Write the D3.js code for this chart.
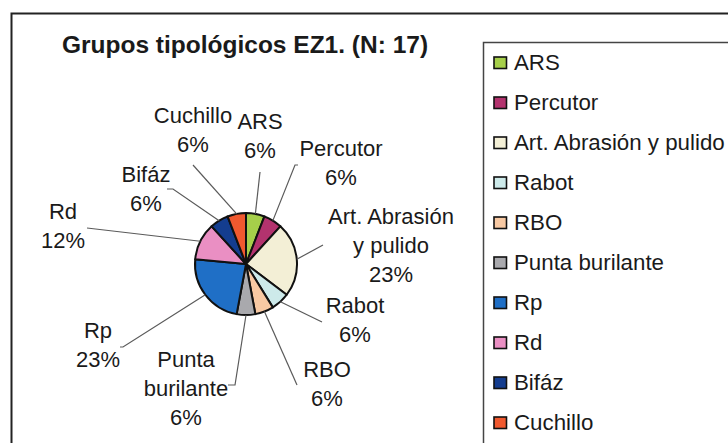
<!DOCTYPE html>
<html>
<head>
<meta charset="utf-8">
<script src="https://cdn.jsdelivr.net/npm/d3@7"></script>
<style>
  body { margin: 0; background: #fff; }
  text { font-family: "Liberation Sans", Arial, sans-serif; fill: #1a1a1a; }
</style>
</head>
<body>
<div id="chart"></div>
<script>
// Data (N = 17)
var categories = ["ARS", "Percutor", "Art. Abrasión y pulido", "Rabot", "RBO",
                  "Punta burilante", "Rp", "Rd", "Bifáz", "Cuchillo"];
var counts = [1, 1, 4, 1, 1, 1, 4, 2, 1, 1];
var percentLabels = ["6%", "6%", "23%", "6%", "6%", "6%", "23%", "12%", "6%", "6%"];
var colors = ["#a6cf4a", "#b3336e", "#f3efd6", "#cdeaea", "#f8c9a3",
              "#a9a9ad", "#1f6fc6", "#ea8fc3", "#143d8f", "#f0592f"];

// how each slice label is broken onto lines
var labelLines = {
  "Art. Abrasión y pulido": ["Art. Abrasión", "y pulido"],
  "Punta burilante": ["Punta", "burilante"]
};

// label placement (Excel "best fit"): text centre x, first baseline y, leader end
var labelLayout = {
  "ARS":                    {x: 260, y: 129, end: [260, 172]},
  "Percutor":               {x: 341, y: 156, end: [295, 165], tick: 3},
  "Art. Abrasión y pulido": {x: 391, y: 224, end: [323, 245]},
  "Rabot":                  {x: 355, y: 313, end: [322, 322]},
  "RBO":                    {x: 327, y: 377, end: [297, 385]},
  "Punta burilante":        {x: 186, y: 367, end: [235, 385], tick: -7},
  "Rp":                     {x: 98,  y: 338, end: [123, 347], tick: -3},
  "Rd":                     {x: 63,  y: 219, end: [87, 228]},
  "Bifáz":                  {x: 146, y: 182, end: [173, 189], tick: -6},
  "Cuchillo":               {x: 193, y: 123, end: [193, 165]}
};

var width = 728, height = 443;
var cx = 246, cy = 264, radius = 51;
var lineStep = 29;

var svg = d3.select("#chart").append("svg")
    .attr("width", width)
    .attr("height", height);

// outer chart frame (cropped on right and bottom)
svg.append("rect")
    .attr("x", 11.5).attr("y", 13.5)
    .attr("width", 760).attr("height", 460)
    .attr("fill", "#fff")
    .attr("stroke", "#222")
    .attr("stroke-width", 2);

// title
svg.append("text")
    .attr("x", 245)
    .attr("y", 53)
    .attr("text-anchor", "middle")
    .style("font-size", "24.5px")
    .style("font-weight", "bold")
    .text("Grupos tipológicos EZ1. (N: 17)");

var data = categories.map(function(c, i) {
  return {name: c, value: counts[i], pct: percentLabels[i], color: colors[i]};
});

var pie = d3.pie()
    .value(function(d) { return d.value; })
    .sort(null);

var arc = d3.arc()
    .innerRadius(0)
    .outerRadius(radius);

var arcs = pie(data);

var g = svg.append("g")
    .attr("transform", "translate(" + cx + "," + cy + ")");

// leader lines
svg.selectAll(".leader")
    .data(arcs)
  .enter().append("polyline")
    .attr("class", "leader")
    .attr("fill", "none")
    .attr("stroke", "#5a5a5a")
    .attr("stroke-width", 1.2)
    .attr("points", function(d) {
      var lay = labelLayout[d.data.name];
      var mid = (d.startAngle + d.endAngle) / 2;
      var p = d3.pointRadial(mid, radius);
      var pts = [[cx + p[0], cy + p[1]], lay.end];
      if (lay.tick) pts.push([lay.end[0] + lay.tick, lay.end[1]]);
      return pts.map(function(q) { return q.join(","); }).join(" ");
    });

// slices
g.selectAll(".slice")
    .data(arcs)
  .enter().append("path")
    .attr("class", "slice")
    .attr("d", arc)
    .attr("fill", function(d) { return d.data.color; })
    .attr("stroke", "#111")
    .attr("stroke-width", 2)
    .attr("stroke-linejoin", "round");

// slice labels
var labels = svg.selectAll(".slice-label")
    .data(arcs)
  .enter().append("text")
    .attr("class", "slice-label")
    .attr("text-anchor", "middle")
    .style("font-size", "22px");

labels.each(function(d) {
  var lay = labelLayout[d.data.name];
  var lines = (labelLines[d.data.name] || [d.data.name]).concat([d.data.pct]);
  d3.select(this).selectAll("tspan")
      .data(lines)
    .enter().append("tspan")
      .attr("x", lay.x)
      .attr("y", function(t, i) { return lay.y + i * lineStep; })
      .text(function(t) { return t; });
});

// legend box (cropped on right and bottom)
var legend = svg.append("g")
    .attr("transform", "translate(483.5,42.5)");

legend.append("rect")
    .attr("width", 300)
    .attr("height", 420)
    .attr("fill", "#fff")
    .attr("stroke", "#444")
    .attr("stroke-width", 1.5);

var legendY = d3.scaleBand()
    .domain(categories)
    .range([0, 400]);

var items = legend.selectAll(".legend-item")
    .data(data)
  .enter().append("g")
    .attr("class", "legend-item")
    .attr("transform", function(d) {
      return "translate(0," + (legendY(d.name) + legendY.bandwidth() / 2) + ")";
    });

items.append("rect")
    .attr("x", 10.5)
    .attr("y", -5.5)
    .attr("width", 12.5)
    .attr("height", 11.5)
    .attr("fill", function(d) { return d.color; })
    .attr("stroke", "#111")
    .attr("stroke-width", 1.6);

items.append("text")
    .attr("x", 30.5)
    .attr("y", 7.5)
    .style("font-size", "22.3px")
    .text(function(d) { return d.name; });
</script>
</body>
</html>
